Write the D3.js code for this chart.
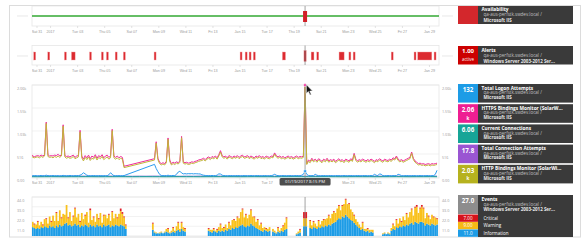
<!DOCTYPE html>
<html>
<head>
<meta charset="utf-8">
<script src="https://cdn.jsdelivr.net/npm/d3@7"></script>
<style>
body { margin: 0; background: #fff; }
svg { display: block; font-family: "Open Sans", "Liberation Sans", Arial, sans-serif; }
</style>
</head>
<body>
<svg id="chart" width="587" height="243"></svg>
<script>
// time grid: samples every 3h from START (metrics + events), slow counters every 12h
const START = new Date(2016, 11, 30, 14, 15);
const STEP_H = 3;
const SLOW_STEP_H = 12;
const HOVER = new Date(2017, 0, 19, 20, 15);
const DOMAIN = [new Date(2016, 11, 30, 16, 0), new Date(2017, 0, 29, 17, 45)];
const HOVER_LABEL = "01/19/2017 8:15 PM";

// main chart y ticks
const Y_TICKS = [0, 516, 1031, 1547, 2062];
const Y_TICK_LABELS = ["0.00", "516", "1.03k", "1.55k", "2.06k"];
// events y ticks
const EV_TICKS = [11, 22, 33, 44];
const EV_TICK_LABELS = ["11.0", "22.0", "33.0", "44.0"];

const _ = null;
const httpsValues = [
  520,470,455,470,480,465,490,470,500,1230,
  500,470,480,470,490,480,510,470,500,1170,
  480,460,470,450,470,490,440,470,480,1046,
  470,400,480,430,490,410,470,440,500,420,
  480,450,500,430,470,490,440,470,1070,470,
  440,470,430,460,440,240,_,_,_,_,
  _,_,_,_,_,_,_,_,_,_,
  _,_,_,410,790,420,330,300,320,300,
  350,875,380,300,330,310,340,320,360,910,
  340,320,330,310,320,340,330,350,360,380,
  390,400,420,390,430,450,420,460,440,470,
  430,500,590,480,450,470,430,480,460,440,
  470,450,480,440,470,490,450,460,480,440,
  470,450,430,470,450,480,440,460,430,470,
  450,440,470,460,540,480,450,470,440,460,
  430,450,470,440,460,430,450,470,440,460,
  450,470,2060,300,380,350,420,370,400,360,
  410,380,350,400,370,420,360,390,370,400,
  350,380,410,370,390,350,400,380,360,410,
  380,530,400,360,390,370,400,380,360,390,
  370,400,380,350,390,370,410,380,360,400,
  380,370,400,380,430,410,470,400,370,390,
  360,380,400,420,440,560,420,360,330,300,
  310,290,300,280,290,300,280,300,290,300,
  310
];
const httpValues = [
  490,440,430,445,450,430,460,440,470,1200,
  460,440,450,430,460,440,470,440,470,1140,
  450,420,440,420,430,460,410,430,450,1010,
  430,360,440,390,450,370,420,400,460,380,
  440,410,460,390,420,450,400,430,1040,430,
  400,430,390,420,400,210,_,_,_,_,
  _,_,_,_,_,_,_,_,_,_,
  _,_,_,380,760,390,300,270,290,270,
  320,845,350,270,300,280,310,290,330,880,
  310,290,300,280,290,310,300,320,330,350,
  360,370,390,360,400,420,390,430,410,440,
  400,470,560,450,420,440,400,450,430,410,
  440,420,450,410,440,460,420,430,450,410,
  440,420,400,440,420,450,410,430,400,440,
  420,410,440,430,510,450,420,440,410,430,
  400,420,440,410,430,400,420,440,410,430,
  420,440,2030,280,350,320,390,340,370,330,
  380,350,320,370,340,390,330,360,340,370,
  320,350,380,340,360,320,370,350,330,380,
  350,500,370,330,360,340,370,350,330,360,
  340,370,350,320,360,340,380,350,330,370,
  350,340,370,350,400,380,440,370,340,360,
  330,350,370,390,410,530,390,330,300,270,
  280,260,270,250,260,270,250,270,260,270,
  280
];
const logonValues = [
  30,28,32,30,26,30,34,28,30,40,
  30,28,30,32,28,30,30,26,30,36,
  30,28,30,34,30,28,30,32,30,40,
  60,95,70,40,30,28,30,32,30,28,
  30,32,28,30,30,28,50,95,60,30,
  28,30,30,28,30,32,_,_,_,_,
  _,_,_,_,_,_,_,_,_,_,
  _,_,_,283,190,120,60,35,30,32,
  30,40,30,30,34,30,60,110,130,90,
  70,75,70,75,72,76,70,74,72,70,
  68,50,40,35,30,32,30,34,30,32,
  40,70,66,40,32,30,28,30,32,30,
  28,30,32,30,28,30,32,30,28,30,
  32,30,28,30,32,30,28,30,32,30,
  28,30,32,40,60,40,30,28,30,32,
  30,28,30,32,30,28,30,32,30,28,
  40,60,132,60,35,30,32,30,60,40,
  30,28,30,32,30,28,30,32,30,28,
  30,32,30,28,30,32,30,28,30,32,
  30,28,30,32,30,28,30,32,30,28,
  30,32,30,60,40,30,70,60,30,28,
  30,32,30,28,30,32,30,60,50,30,
  28,30,32,30,28,30,32,30,28,30,
  32,30,28,30,32,30,28,30,32,60,
  150
];
const connAttemptValues = [
  18,17,19,18,16,18,17,19,18,17,
  16,18,19,17,18,16,18,17,19,18,
  17,18,16,18,17,19,18,17,18,16,
  18,17,19,18,17,18,16,18,17,19,
  18,17,18,16,18,17,19,18,17,18,
  16,18,17,19,18,17,18,16,18,17,
  19
];
const currentConnValues = [
  6,5,6,7,6,5,6,6,7,6,
  5,6,6,7,6,5,6,7,6,6,
  5,6,7,6,6,5,6,6,7,6,
  6,5,6,7,6,6,5,6,6,7,
  6,5,6,6,7,6,5,6,7,6,
  6,5,6,6,7,6,5,6,6,7,
  6
];

// events per 3h bin
const infoCounts = [
  13,10,9,8,9,8,10,9,11,10,
  9,12,10,11,9,12,10,13,11,12,
  14,15,12,13,11,12,14,12,13,10,
  12,11,13,12,10,13,11,12,10,13,
  11,12,10,13,11,12,13,10,12,11,
  13,12,11,13,12,11,8,_,_,_,
  _,_,_,_,_,_,_,_,_,_,
  _,_,7,4,3,3,3,4,3,4,
  5,4,3,4,5,4,6,7,5,8,
  6,5,_,_,_,_,_,_,_,_,
  _,_,_,_,_,6,5,4,6,5,
  4,6,5,6,5,7,6,8,7,9,
  8,10,9,11,12,13,11,10,12,11,
  14,12,11,9,8,7,6,5,7,6,
  5,6,_,5,4,3,5,4,6,5,
  7,8,_,_,_,_,_,2,3,4,
  _,_,11,_,_,9,8,10,9,8,
  10,9,11,10,12,11,13,12,14,15,
  16,18,20,19,22,21,24,22,20,18,
  17,15,13,11,9,7,8,6,5,6,
  4,5,4,_,_,_,_,_,2,3,
  2,3,2,6,8,7,10,9,11,10,
  12,11,13,12,14,15,13,16,15,14,
  16,16,15,12,14,13,12,14,13,12,
  13
];
const warnCounts = [
  11,6,4,5,7,4,6,3,8,9,
  5,10,6,12,8,14,7,16,9,13,
  10,20,8,14,6,10,17,9,12,6,
  14,8,10,15,5,16,7,9,6,12,
  8,14,5,10,13,8,11,7,15,9,
  12,8,14,15,13,10,4,_,_,_,
  _,_,_,_,_,_,_,_,_,_,
  _,_,7,1,1,0,1,1,0,1,
  3,4,1,2,4,2,5,8,3,7,
  4,3,_,_,_,_,_,_,_,_,
  _,_,_,_,_,2,2,3,2,1,
  3,4,8,3,4,6,3,7,5,9,
  10,7,12,9,15,17,10,14,8,13,
  15,10,10,7,10,5,8,4,3,2,
  3,4,_,3,2,1,4,2,3,6,
  8,12,_,_,_,_,_,1,2,3,
  _,_,9,_,_,8,4,6,5,3,
  7,4,6,8,7,9,10,8,11,12,
  10,13,14,10,12,15,17,14,16,12,
  10,8,6,5,4,3,7,2,3,2,
  3,2,3,_,_,_,_,_,1,1,
  0,1,1,3,5,4,8,5,9,6,
  10,7,12,9,13,15,10,16,18,12,
  15,17,16,8,12,9,7,10,8,9,
  6
];
const critCounts = [
  1,0,1,0,1,0,0,1,0,1,
  0,0,1,0,0,1,0,0,1,0,
  0,0,1,0,0,1,1,0,0,1,
  0,0,1,0,0,2,0,1,0,0,
  1,0,0,1,0,0,1,0,1,0,
  0,1,0,3,2,1,1,_,_,_,
  _,_,_,_,_,_,_,_,_,_,
  _,_,1,0,0,0,0,0,0,0,
  0,1,0,0,1,0,0,1,0,1,
  0,1,_,_,_,_,_,_,_,_,
  _,_,_,_,_,1,0,0,1,0,
  1,0,1,0,1,0,0,1,0,0,
  1,0,1,0,0,1,0,1,0,0,
  1,0,1,0,1,0,1,0,0,1,
  0,0,_,0,0,0,1,0,0,1,
  0,1,_,_,_,_,_,0,0,1,
  _,_,7,_,_,1,0,1,0,0,
  1,0,0,1,0,0,1,0,0,1,
  0,0,1,0,1,0,1,0,1,0,
  0,1,0,0,0,0,1,0,0,1,
  0,0,0,_,_,_,_,_,0,0,
  0,0,0,0,1,0,1,0,0,1,
  0,0,1,0,0,1,0,1,2,0,
  1,2,1,0,0,1,0,0,1,0,
  1
];

// active alert periods
const alertStarts = [
  "2016-12-30 19:00","2016-12-31 20:00","2017-01-02 01:30","2017-01-02 14:00","2017-01-03 22:00",
  "2017-01-04 19:00","2017-01-05 04:00","2017-01-05 19:30","2017-01-06 10:00","2017-01-08 16:30",
  "2017-01-15 01:00","2017-01-15 10:00","2017-01-15 17:00","2017-01-16 00:30","2017-01-18 04:00",
  "2017-01-19 18:15","2017-01-20 07:00","2017-01-20 17:00","2017-01-22 08:30","2017-01-23 02:00",
  "2017-01-23 09:30","2017-01-26 05:00","2017-01-27 21:30","2017-01-28 04:00","2017-01-29 09:00"
];
const alertEnds = [
  "2016-12-30 22:30","2016-12-31 23:30","2017-01-02 05:00","2017-01-02 20:30","2017-01-04 01:30",
  "2017-01-04 22:30","2017-01-05 07:30","2017-01-05 23:00","2017-01-06 13:30","2017-01-08 20:00",
  "2017-01-15 04:30","2017-01-15 13:30","2017-01-15 20:30","2017-01-16 04:00","2017-01-18 09:30",
  "2017-01-19 22:15","2017-01-20 12:00","2017-01-20 20:30","2017-01-22 17:30","2017-01-23 05:30",
  "2017-01-23 13:00","2017-01-26 08:30","2017-01-28 01:00","2017-01-29 05:00","2017-01-29 12:30"
];

const seriesNames = ["Total Logon Attempts", "HTTPS Bindings Monitor (SolarW...", "Current Connections", "Total Connection Attempts", "HTTP Bindings Monitor (SolarWi..."];
const seriesColors = ["#1d9ce6", "#ee1e92", "#16a597", "#9a55d2", "#b6b21e"];
const legendValues = ["132", "2.06", "6.06", "17.8", "2.03"];
const legendUnits = ["", "k", "", "", "k"];
const eventNames = ["Critical", "Warning", "Information"];
const eventColors = ["#d5121b", "#f7b916", "#1d9ce6"];
const eventTotals = ["7.00", "9.00", "11.0"];

const HOST = "qa-aus-perfstk.swdev.local /";

// ---------------------------------------------------------------
const svg = d3.select("#chart");
const X0 = 32, X1 = 439;
const AXIS_FONT = 3.7;
const parse = d3.timeParse("%Y-%m-%d %H:%M");
const at = (i, step) => d3.timeHour.offset(START, i * step);

const x = d3.scaleTime().domain(DOMAIN).range([X0, X1]);

const defs = svg.append("defs");
defs.append("clipPath").attr("id", "frame")
	.append("rect").attr("x", 10).attr("y", 6).attr("width", 570).attr("height", 231);
defs.append("clipPath").attr("id", "plot")
	.append("rect").attr("x", X0).attr("y", 0).attr("width", X1 - X0).attr("height", 243);

svg.append("rect")
	.attr("x", 9.5).attr("y", 5.5).attr("width", 571).attr("height", 231.5)
	.attr("fill", "#fff").attr("stroke", "#dcdcdc");

const root = svg.append("g").attr("clip-path", "url(#frame)");

function panelFrame(top, bottom) {
	root.append("rect")
		.attr("x", X0).attr("y", top).attr("width", X1 - X0).attr("height", bottom - top)
		.attr("fill", "none").attr("stroke", "#e7e7e7").attr("stroke-width", 0.8);
}

// hideNear: ticks hidden under the hover tooltip
function timeAxis(bottom, pad, hideNear) {
	const wrap = root.append("g").attr("clip-path", "url(#plot)");
	wrap.append("g")
		.attr("transform", `translate(0,${bottom})`)
		.call(d3.axisBottom(x).ticks(d3.timeDay.every(2)).tickSize(2).tickPadding(pad))
		.call(ax => ax.select(".domain").remove())
		.call(ax => ax.selectAll("line").attr("stroke", "#d0d0d0").attr("stroke-width", 0.6))
		.call(ax => ax.selectAll(".tick")
			.filter(d => hideNear && Math.abs(x(d) - x(HOVER)) < 30)
			.select("text").remove())
		.selectAll("text")
		.attr("fill", "#9a9a9a")
		.style("font-size", AXIS_FONT + "px");
}

function stub(y) {
	root.append("line").attr("x1", 17).attr("x2", 28).attr("y1", y).attr("y2", y)
		.attr("stroke", "#dedede").attr("stroke-width", 0.7);
	root.append("line").attr("x1", 442).attr("x2", 453).attr("y1", y).attr("y2", y)
		.attr("stroke", "#dedede").attr("stroke-width", 0.7);
}

function cursorLine(top, bottom) {
	root.append("line")
		.attr("x1", x(HOVER)).attr("x2", x(HOVER)).attr("y1", top).attr("y2", bottom)
		.attr("stroke", "#8c8c8c").attr("stroke-width", 0.8);
}

function yLabels(scale, ticks, labels) {
	ticks.forEach((t, k) => {
		[17, 442].forEach(lx => {
			root.append("text")
				.attr("x", lx).attr("y", scale(t) + 5.3)
				.attr("fill", "#9a9a9a")
				.style("font-size", AXIS_FONT + "px")
				.text(labels[k]);
		});
	});
}

// --- Availability ---
panelFrame(6, 26);
stub(16);
root.append("line")
	.attr("x1", X0).attr("x2", x(at(240, STEP_H)) + 2).attr("y1", 16).attr("y2", 16)
	.attr("stroke", "#33a933").attr("stroke-width", 1.3);
cursorLine(6, 26);
root.append("rect")
	.attr("x", x(HOVER) - 2).attr("y", 11).attr("width", 4).attr("height", 11)
	.attr("fill", "#d11f26");
timeAxis(26, 2.5, false);

// --- Alerts ---
panelFrame(45.5, 65);
stub(56);
const alerts = alertStarts.map((s, k) => ({ start: parse(s), end: parse(alertEnds[k]) }));
const active = d => d.start <= HOVER && d.end >= HOVER;
root.append("g").attr("clip-path", "url(#plot)")
	.selectAll("rect")
	.data(alerts)
	.join("rect")
	.attr("x", d => x(d.start))
	.attr("width", d => Math.max(1.6, x(d.end) - x(d.start)))
	.attr("y", d => active(d) ? 50.5 : 52)
	.attr("height", d => active(d) ? 11 : 8)
	.attr("fill", d => active(d) ? "#c3141c" : "#dc2a30")
	.attr("stroke", "#f2a0a3")
	.attr("stroke-width", 0.4);
cursorLine(45.5, 65);
timeAxis(65, 2.8, false);

// --- Main metrics chart ---
const MAIN_TOP = 85, MAIN_BOTTOM = 178;
const y = d3.scaleLinear().domain([0, Y_TICKS[4]]).range([177, MAIN_TOP]);
root.append("g").selectAll("line")
	.data(Y_TICKS)
	.join("line")
	.attr("x1", X0).attr("x2", X1)
	.attr("y1", d => y(d)).attr("y2", d => y(d))
	.attr("stroke", "#ececec").attr("stroke-width", 0.7);
panelFrame(MAIN_TOP, MAIN_BOTTOM);
yLabels(y, Y_TICKS, Y_TICK_LABELS);

const toPoints = (vals, step) => vals
	.map((v, i) => ({ t: at(i, step), v }))
	.filter(d => d.v !== null);
const line = d3.line().x(d => x(d.t)).y(d => y(d.v));

const mainSeries = [
	{ pts: toPoints(connAttemptValues, SLOW_STEP_H), color: "#6a5fd6" },
	{ pts: toPoints(currentConnValues, SLOW_STEP_H), color: seriesColors[2] },
	{ pts: toPoints(logonValues, STEP_H), color: "#2b9cf0" },
	{ pts: toPoints(httpsValues, STEP_H), color: "#f0299a" },
	{ pts: toPoints(httpValues, STEP_H), color: "#c2b63a" }
];
const lines = root.append("g").attr("clip-path", "url(#plot)");
lines.selectAll("path")
	.data(mainSeries)
	.join("path")
	.attr("d", d => line(d.pts))
	.attr("fill", "none")
	.attr("stroke", d => d.color)
	.attr("stroke-width", 1)
	.attr("stroke-linejoin", "round");

cursorLine(MAIN_TOP, MAIN_BOTTOM);

// hover markers
const hoverIdx = Math.round((HOVER - START) / 36e5 / STEP_H);
[[httpsValues, "#f0299a"], [logonValues, "#2b9cf0"]].forEach(([vals, c]) => {
	root.append("circle")
		.attr("cx", x(HOVER)).attr("cy", y(vals[hoverIdx])).attr("r", 1.5)
		.attr("fill", c).attr("stroke", "#fff").attr("stroke-width", 0.5);
});

timeAxis(MAIN_BOTTOM, 1.2, true);

// hover tooltip on the x axis
const tip = root.append("g");
tip.append("rect")
	.attr("x", x(HOVER) - 25.5).attr("y", 178).attr("width", 51).attr("height", 7.5)
	.attr("rx", 1.5).attr("fill", "#4d4d4d");
tip.append("text")
	.attr("x", x(HOVER)).attr("y", 183.2)
	.attr("text-anchor", "middle").attr("fill", "#fff")
	.style("font-size", "4.3px")
	.text(HOVER_LABEL);

// --- Events ---
const EV_TOP = 197, EV_BOTTOM = 236;
const yEv = d3.scaleLinear().domain([0, 44]).range([EV_BOTTOM, EV_TOP]);
root.append("g").selectAll("line")
	.data(EV_TICKS)
	.join("line")
	.attr("x1", X0).attr("x2", X1)
	.attr("y1", d => yEv(d)).attr("y2", d => yEv(d))
	.attr("stroke", "#ececec").attr("stroke-width", 0.7);
panelFrame(EV_TOP, EV_BOTTOM);
yLabels(yEv, EV_TICKS, EV_TICK_LABELS);

const evRows = infoCounts
	.map((v, i) => ({ t: at(i, STEP_H), info: v, warn: warnCounts[i], crit: critCounts[i] }))
	.filter(d => d.info !== null);
const stack = d3.stack().keys(["info", "warn", "crit"])(evRows);
const stackColors = ["#1d9ce6", "#f9c11c", "#e01c28"];
const isHover = d => +d.data.t === +HOVER;
root.append("g").attr("clip-path", "url(#plot)")
	.selectAll("g")
	.data(stack)
	.join("g")
	.attr("fill", (d, k) => stackColors[k])
	.selectAll("rect")
	.data(d => d)
	.join("rect")
	.attr("x", d => x(d.data.t) - (isHover(d) ? 2 : 0.85))
	.attr("width", d => isHover(d) ? 4 : 1.75)
	.attr("y", d => yEv(d[1]))
	.attr("height", d => yEv(d[0]) - yEv(d[1]));
cursorLine(EV_TOP, EV_BOTTOM);

// --- Legend boxes ---
function legendBox(top, h, swatch, title, line3, gap) {
	root.append("rect").attr("x", 458).attr("y", top).attr("width", 20).attr("height", h).attr("fill", swatch);
	root.append("rect").attr("x", 478).attr("y", top).attr("width", 95).attr("height", h).attr("fill", "#3a3a3a");
	root.append("text").attr("x", 481.5).attr("y", top + 5.5)
		.attr("fill", "#fff").attr("font-weight", "bold").style("font-size", "4.8px").text(title);
	root.append("text").attr("x", 483.5).attr("y", top + 5.5 + gap)
		.attr("fill", "#c2c2c2").style("font-size", "4.5px").text(HOST);
	root.append("text").attr("x", 483.5).attr("y", top + 5.5 + 2 * gap)
		.attr("fill", "#e8e8e8").attr("font-weight", "bold").style("font-size", "4.5px").text(line3);
}

legendBox(5, 19, "#d3272c", "Availability", "Microsoft IIS", 5.5);

legendBox(46, 18.5, "#cc0000", "Alerts", "Windows Server 2003-2012 Ser...", 5.6);
root.append("text").attr("x", 468).attr("y", 53.3).attr("text-anchor", "middle")
	.attr("fill", "#fff").attr("font-weight", "bold").style("font-size", "6px").text("1.00");
root.append("text").attr("x", 468).attr("y", 61.3).attr("text-anchor", "middle")
	.attr("fill", "#fff").style("font-size", "4.4px").text("active");

seriesNames.forEach((name, k) => {
	const top = 84 + k * 20.2;
	legendBox(top, 18.6, seriesColors[k], name, "Microsoft IIS", 4.6);
	root.append("text").attr("x", 468).attr("y", top + 8)
		.attr("text-anchor", "middle").attr("fill", "#fff").attr("font-weight", "bold")
		.style("font-size", "6.2px").text(legendValues[k]);
	if (legendUnits[k]) {
		root.append("text").attr("x", 468).attr("y", top + 15.5)
			.attr("text-anchor", "middle").attr("fill", "#fff").attr("font-weight", "bold")
			.style("font-size", "4.6px").text(legendUnits[k]);
	}
});

// events legend
root.append("rect").attr("x", 478).attr("y", 195).attr("width", 95).attr("height", 42).attr("fill", "#3a3a3a");
legendBox(195, 19, "#8d8d8d", "Events", "Windows Server 2003-2012 Ser...", 5.2);
root.append("text").attr("x", 468).attr("y", 203).attr("text-anchor", "middle")
	.attr("fill", "#fff").attr("font-weight", "bold").style("font-size", "6.2px").text("27.0");
eventNames.forEach((name, k) => {
	const top = 214.5 + k * 7.5;
	root.append("rect").attr("x", 458).attr("y", top).attr("width", 20).attr("height", 7.3).attr("fill", eventColors[k]);
	root.append("text").attr("x", 468).attr("y", top + 5.3).attr("text-anchor", "middle")
		.attr("fill", "#fff").style("font-size", "4.5px").text(eventTotals[k]);
	root.append("text").attr("x", 483.5).attr("y", top + 5.3)
		.attr("fill", "#fff").style("font-size", "4.5px").text(name);
});

// mouse pointer over the hovered peak
root.append("path")
	.attr("transform", `translate(${x(HOVER) + 1.2},84.5)`)
	.attr("d", "M0,0 L0,9 L2.1,7 L3.7,10.6 L5,10 L3.5,6.6 L6.3,6.6 Z")
	.attr("fill", "#111").attr("stroke", "#fff").attr("stroke-width", 0.6);
</script>
</body>
</html>
